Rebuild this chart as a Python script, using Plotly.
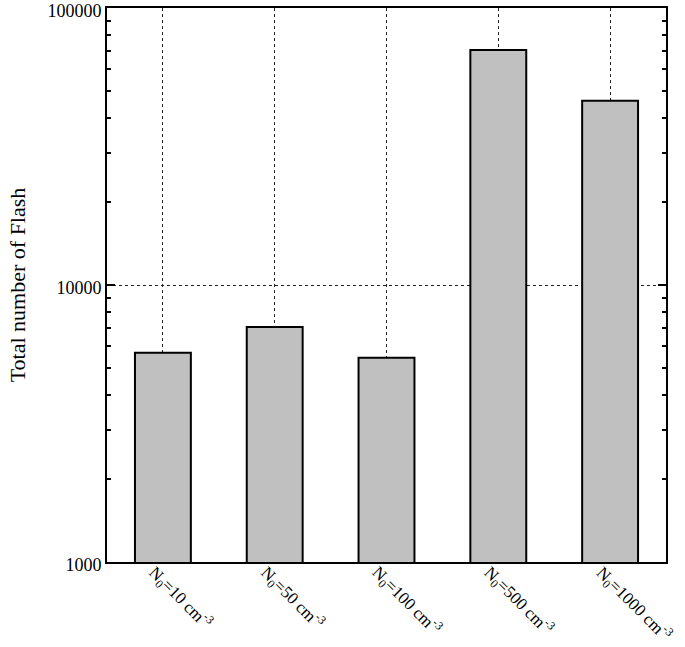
import plotly.graph_objects as go

categories = ["N<sub>0</sub>=10 cm<sup>-3</sup>", "N<sub>0</sub>=50 cm<sup>-3</sup>",
              "N<sub>0</sub>=100 cm<sup>-3</sup>", "N<sub>0</sub>=500 cm<sup>-3</sup>",
              "N<sub>0</sub>=1000 cm<sup>-3</sup>"]
flashes = [5690, 7060, 5460, 70600, 46300]
y_ticks = [1000, 10000, 100000]
y_minor = [2000, 3000, 4000, 5000, 6000, 7000, 8000, 9000,
           20000, 30000, 40000, 50000, 60000, 70000, 80000, 90000]

FONT = "Liberation Serif, Times New Roman, serif"

fig = go.Figure(go.Bar(
    x=categories, y=flashes, width=0.5,
    marker=dict(color="#c0c0c0", line=dict(color="black", width=2)),
))

for cat in categories:
    fig.add_annotation(
        x=cat, xref="x", y=0, yref="paper",
        text=cat, showarrow=False, textangle=45,
        xanchor="left", yanchor="top", xshift=-23, yshift=4,
        font=dict(family=FONT, size=17, color="black"),
    )

fig.update_layout(
    width=685, height=647,
    margin=dict(l=107, r=19, t=6, b=85),
    plot_bgcolor="white", paper_bgcolor="white",
    font=dict(family=FONT, size=18, color="black"),
    showlegend=False,
)
fig.update_xaxes(
    type="category", range=[-0.5, 4.5],
    showline=True, linecolor="black", linewidth=2, mirror=True,
    showgrid=True, gridcolor="#222222", griddash="dot", gridwidth=1,
    ticks="", showticklabels=False,
)
fig.update_yaxes(
    type="log", range=[3, 5], automargin=False,
    tickvals=y_ticks, ticktext=[str(v) for v in y_ticks],
    ticklabeloverflow="allow", ticklabelshift=3,
    tickfont=dict(family=FONT, size=18, color="black"),
    showline=True, linecolor="black", linewidth=2, mirror="ticks",
    ticks="inside", ticklen=8, tickwidth=2, tickcolor="black",
    showgrid=True, gridcolor="#222222", griddash="dot", gridwidth=1,
    minor=dict(tickvals=y_minor, ticks="inside", ticklen=4, tickwidth=2,
               tickcolor="black", showgrid=False),
    title=dict(text="Total number of Flash",
               font=dict(family=FONT, size=22, color="black"), standoff=16),
    zeroline=False,
)

fig.write_html("out.html", config={"displayModeBar": False},
               post_script="document.body.style.margin='0';"
                           "document.body.style.overflow='hidden';")
